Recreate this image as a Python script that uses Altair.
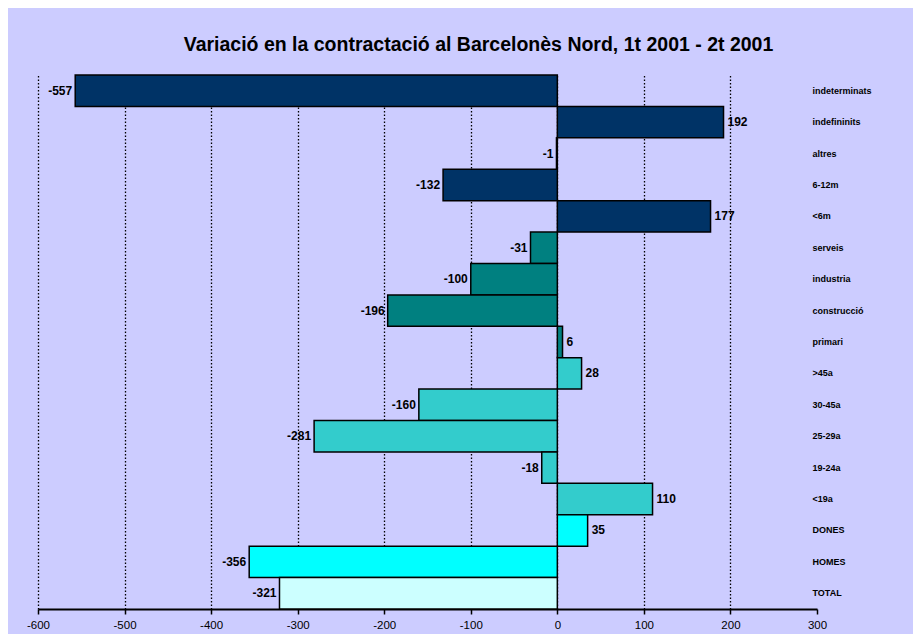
import altair as alt
import pandas as pd

categories = ["indeterminats", "indefininits", "altres", "6-12m", "<6m",
              "serveis", "industria", "construcció", "primari",
              ">45a", "30-45a", "25-29a", "19-24a", "<19a",
              "DONES", "HOMES", "TOTAL"]
values = [-557, 192, -1, -132, 177,
          -31, -100, -196, 6,
          28, -160, -281, -18, 110,
          35, -356, -321]
groups = ["contracte"] * 5 + ["sector"] * 4 + ["edat"] * 5 + ["sexe"] * 2 + ["total"]
group_names = ["contracte", "sector", "edat", "sexe", "total"]
group_colors = ["#003366", "#008080", "#33CCCC", "#00FFFF", "#CCFFFF"]
x_ticks = [-600, -500, -400, -300, -200, -100, 0, 100, 200, 300]

df = pd.DataFrame({"cat": categories, "value": values, "group": groups})

FONT = "Liberation Sans"

x_enc = alt.X("value:Q",
              scale=alt.Scale(domain=[-600, 300], nice=False, zero=False),
              axis=alt.Axis(values=x_ticks, title=None, grid=True,
                            gridColor="black", gridDash=[1.5, 2], gridWidth=1.3,
                            gridOpacity=alt.ExprRef("datum.value == 300 ? 0 : 1"),
                            domainColor="black", domainWidth=2,
                            tickColor="black", tickWidth=1.5, tickSize=5,
                            labelExpr="toString(datum.value)",
                            labelFont=FONT, labelFontSize=11.5, labelColor="black",
                            labelPadding=5, labelFlush=False))
y_enc = alt.Y("cat:N", sort=categories,
              scale=alt.Scale(paddingInner=0, paddingOuter=0),
              axis=alt.Axis(orient="right", title=None, domain=False, ticks=False,
                            grid=False, labelAlign="left", labelPadding=-5,
                            labelFont=FONT, labelFontSize=9, labelFontWeight="bold",
                            labelColor="black"))

bars = alt.Chart(df).mark_bar(stroke="black", strokeWidth=1.5).encode(
    x=x_enc,
    x2=alt.datum(0),
    y=y_enc,
    color=alt.Color("group:N", scale=alt.Scale(domain=group_names, range=group_colors),
                    legend=None),
)

labels = alt.Chart(df).transform_calculate(
    lbl="toString(datum.value)"
).mark_text(
    font=FONT, fontSize=12, fontWeight="bold", color="black",
    align=alt.ExprRef("datum.value < 0 ? 'right' : 'left'"),
    dx=alt.ExprRef("datum.value < 0 ? -3 : 4"),
    baseline="middle",
).encode(
    x="value:Q",
    y=alt.Y("cat:N", sort=categories),
    text="lbl:N",
)

chart = (bars + labels).properties(
    width=779,
    height=534,
    background="#CCCCFF",
    padding={"left": 30, "top": 67, "right": 96, "bottom": 25},
    autosize=alt.AutoSizeParams(type="none"),
    title=alt.TitleParams(
        "Variació en la contractació al Barcelonès Nord, 1t 2001 - 2t 2001",
        font=FONT, fontSize=19.5, fontWeight="bold", color="black",
        anchor="middle", frame="group", dx=51, offset=19,
    ),
).configure_view(stroke=None)

chart.save("out.html", embed_options={"renderer": "svg", "actions": False})
